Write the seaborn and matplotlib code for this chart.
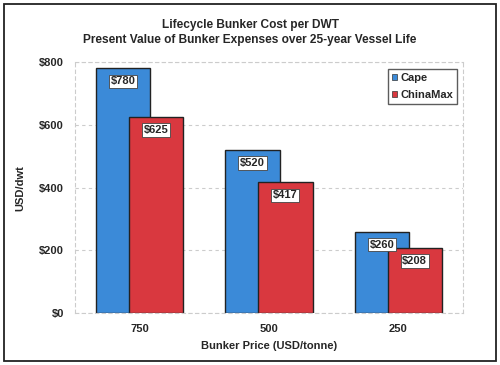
import pandas as pd
import seaborn as sns
import matplotlib.pyplot as plt
from matplotlib.patches import Rectangle, Patch

# Chart data
prices = ['750', '500', '250']
cape = [780, 520, 260]
chinamax = [625, 417, 208]

blue = '#3b8ad8'
red = '#d9383f'

sns.set_style('white')
plt.rcParams['font.family'] = ['Liberation Sans', 'DejaVu Sans']
plt.rcParams['font.weight'] = 'bold'

fig = plt.figure(figsize=(5, 3.65), dpi=100)
ax = fig.add_axes([0.15, 0.142, 0.776, 0.688])

# Cape bars then ChinaMax bars, overlapping
df_cape = pd.DataFrame({'price': prices, 'cost': cape})
df_china = pd.DataFrame({'price': prices, 'cost': chinamax})
sns.barplot(data=df_cape, x='price', y='cost', color=blue, width=0.42,
            edgecolor='#222222', linewidth=1, saturation=1, ax=ax)
sns.barplot(data=df_china, x='price', y='cost', color=red, width=0.42,
            edgecolor='#222222', linewidth=1, saturation=1, ax=ax)

shift = 0.127
for i, cont in enumerate(ax.containers):
    d = -shift if i == 0 else shift
    for p in cont:
        p.set_x(p.get_x() + d)
    ax.bar_label(cont, labels=[f'${int(v)}' for v in cont.datavalues],
                 padding=-13, fontsize=8, fontweight='bold',
                 bbox=dict(boxstyle='square,pad=0.15', fc='white', ec='#444444', lw=0.6))

ax.set_xlim(-0.5, 2.5)
ax.set_ylim(0, 800)
ax.set_yticks([0, 200, 400, 600, 800])
ax.set_yticklabels([f'${v}' for v in [0, 200, 400, 600, 800]])
ax.tick_params(axis='both', length=0, labelsize=8, pad=8)
for lab in ax.get_xticklabels() + ax.get_yticklabels():
    lab.set_fontweight('bold')
ax.yaxis.grid(True, linestyle=(0, (3, 3)), color='#cccccc', linewidth=0.8)
ax.set_axisbelow(True)
for s in ax.spines.values():
    s.set_visible(True)
    s.set_linestyle((0, (3, 3)))
    s.set_color('#cccccc')
    s.set_linewidth(0.8)

ax.set_xlabel('Bunker Price (USD/tonne)', fontsize=8, fontweight='bold', labelpad=5)
ax.set_ylabel('USD/dwt', fontsize=8, fontweight='bold', labelpad=10)

fig.text(0.5, 0.932, 'Lifecycle Bunker Cost per DWT', ha='center', va='center',
         fontsize=8.6, fontweight='bold')
fig.text(0.5, 0.89, 'Present Value of Bunker Expenses over 25-year Vessel Life',
         ha='center', va='center', fontsize=8.6, fontweight='bold')

handles = [Patch(facecolor=blue, edgecolor='#333333', lw=0.5, label='Cape'),
           Patch(facecolor=red, edgecolor='#333333', lw=0.5, label='ChinaMax')]
leg = ax.legend(handles=handles, loc='upper right', bbox_to_anchor=(0.99, 0.98),
                fontsize=8, frameon=True, fancybox=False, edgecolor='#333333',
                handlelength=0.5, handleheight=0.5, handletextpad=0.25,
                borderpad=0.35, labelspacing=0.6, borderaxespad=0.2)
leg.get_frame().set_linewidth(1)
for t in leg.get_texts():
    t.set_fontweight('bold')

# Outer frame around figure
fig.patches.append(Rectangle((0.008, 0.012), 0.984, 0.976, transform=fig.transFigure,
                             fill=False, edgecolor='#222222', linewidth=1.3))

fig.savefig('out.png', dpi=100)
